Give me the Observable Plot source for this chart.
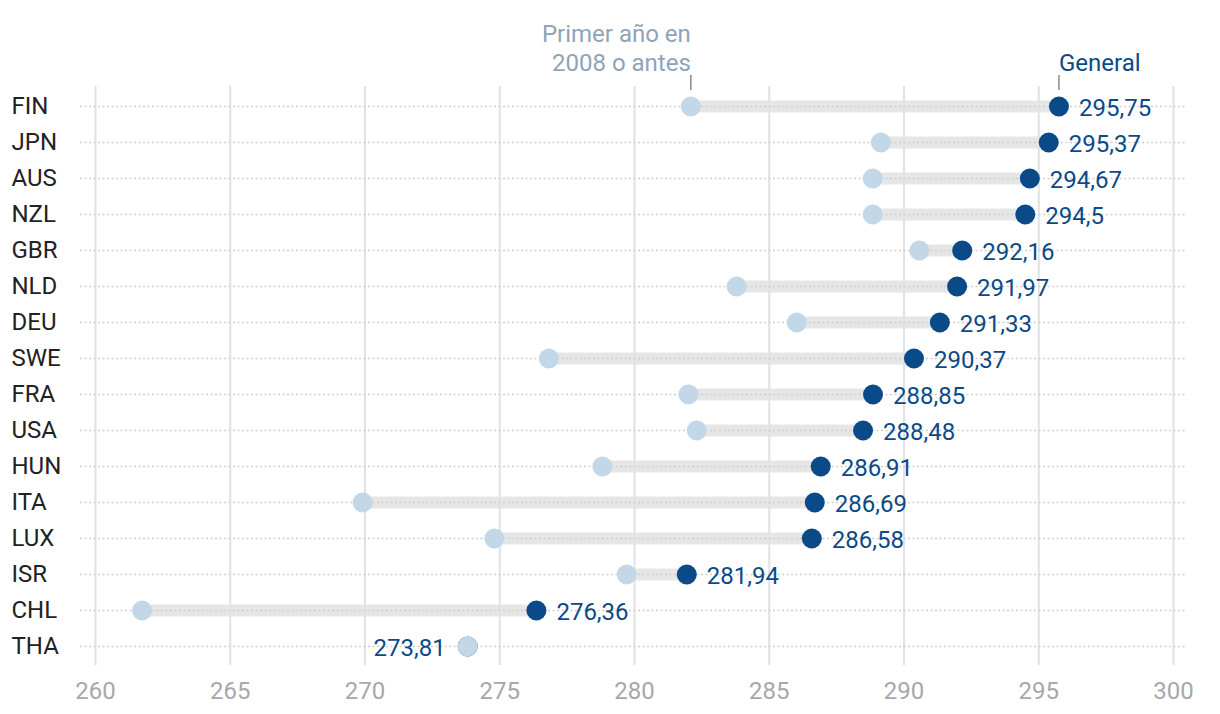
<!DOCTYPE html>
<html>
<head>
<meta charset="utf-8">
<script src="https://cdn.jsdelivr.net/npm/d3@7"></script>
<script src="https://cdn.jsdelivr.net/npm/@observablehq/plot@0.6"></script>
<style>
  html, body { margin: 0; padding: 0; background: #fff; }
  #chart svg { display: block; font-family: Roboto, "Noto Sans", sans-serif; }
</style>
</head>
<body>
<div id="chart"></div>
<script>
const countries = ["FIN","JPN","AUS","NZL","GBR","NLD","DEU","SWE","FRA","USA","HUN","ITA","LUX","ISR","CHL","THA"];
const general   = [295.75,295.37,294.67,294.5,292.16,291.97,291.33,290.37,288.85,288.48,286.91,286.69,286.58,281.94,276.36,273.81];
const firstYear = [282.09,289.14,288.84,288.84,290.57,283.79,286.02,276.82,282.0,282.31,278.81,269.91,274.8,279.71,261.73,273.81];
const xTicks = [260,265,270,275,280,285,290,295,300];
const labelFirst = "Primer año en\n2008 o antes";
const labelGeneral = "General";

const data = countries.map((c, i) => ({country: c, general: general[i], first: firstYear[i]}));
const fmt = v => String(v).replace(".", ",");
const leftLabeled = data.filter(d => d.general <= d.first);
const rightLabeled = data.filter(d => d.general > d.first);
const topRow = [data[0]];

const dark = "#0b4a88";
const light = "#c2d7e8";

const chart = Plot.plot({
  width: 1220,
  height: 714,
  marginLeft: 95,
  marginRight: 47,
  marginTop: 82,
  marginBottom: 44,
  style: {fontFamily: "Roboto, sans-serif", fontSize: "24px", background: "#fff"},
  x: {domain: [260, 300], ticks: xTicks, tickSize: 0, tickPadding: 11, label: null, tickFormat: d => String(d)},
  y: {type: "point", domain: countries, axis: null},
  marks: [
    Plot.ruleY(data, {y: "country", x1: "first", x2: "general", stroke: "#e6e6e6", strokeWidth: 12}),
    Plot.gridX(xTicks, {stroke: "#e2e2e2", strokeOpacity: 1, strokeWidth: 2, insetTop: 4, insetBottom: 5}),
    Plot.ruleY(countries, {y: d => d, stroke: "#cfcfcf", strokeWidth: 1.5, strokeDasharray: "2,2.5", insetLeft: -15, insetRight: -14}),
    Plot.axisX(xTicks, {tickSize: 0, tickPadding: 11, fill: "#a8a8a8", fontSize: 24, tickFormat: d => String(d), label: null}),
    Plot.ruleX(topRow, {x: "first", stroke: "#8a8a8a", strokeWidth: 1.5, insetTop: -7, insetBottom: 580}),
    Plot.ruleX(topRow, {x: "general", stroke: "#8a8a8a", strokeWidth: 1.5, insetTop: -7, insetBottom: 580}),
    Plot.dot(data, {x: "general", y: "country", r: 10, fill: dark}),
    Plot.dot(data, {x: "first", y: "country", r: 10, fill: light}),
    Plot.text(rightLabeled, {x: "general", y: "country", text: d => fmt(d.general), textAnchor: "start", dx: 20, dy: 2, fill: dark, fontSize: 24}),
    Plot.text(leftLabeled, {x: "general", y: "country", text: d => fmt(d.general), textAnchor: "end", dx: -22, dy: 2, fill: dark, fontSize: 24}),
    Plot.text(countries, {y: d => d, text: d => d, frameAnchor: "left", textAnchor: "start", dx: -84, fill: "#222", fontSize: 24}),
    Plot.text(topRow, {x: "first", frameAnchor: "top", text: () => labelFirst, textAnchor: "end", lineAnchor: "bottom", lineHeight: 1.17, dy: -12, fill: "#8ea4b9", fontSize: 24}),
    Plot.text(topRow, {x: "general", frameAnchor: "top", text: () => labelGeneral, textAnchor: "start", lineAnchor: "bottom", dy: -12, fill: dark, fontSize: 24})
  ]
});
document.getElementById("chart").appendChild(chart);
</script>
</body>
</html>
